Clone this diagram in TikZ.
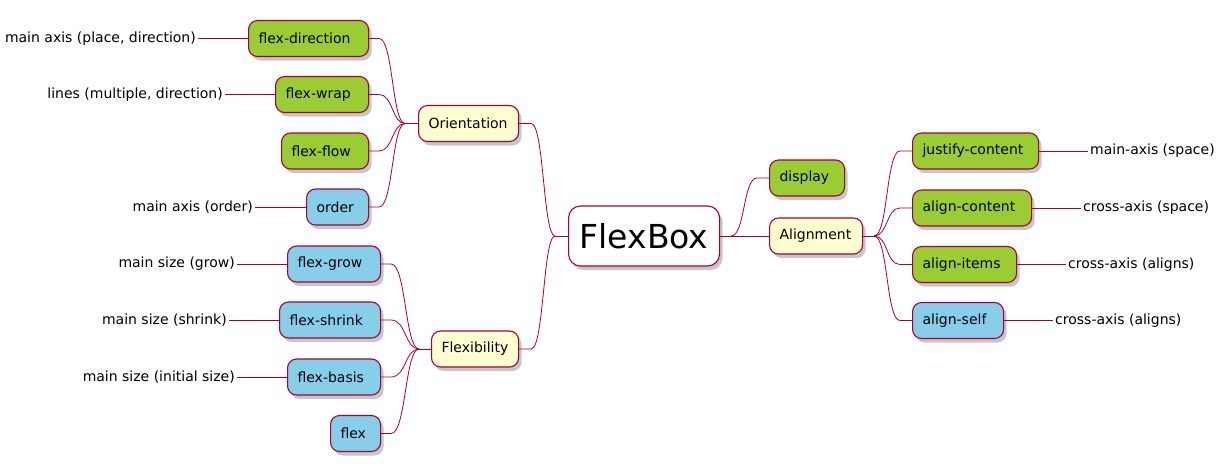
\documentclass[tikz,border=0pt]{standalone}
\usepackage{fontspec}
\setmainfont{DejaVu Sans}
\usetikzlibrary{shadows,calc}
\definecolor{bord}{HTML}{A80036}
\definecolor{grn}{HTML}{9ACD32}
\definecolor{blu}{HTML}{87CEEB}
\definecolor{ylw}{HTML}{FEFECE}
\tikzset{
  bx/.style={draw=bord, line width=1.1pt, rounded corners=9pt, minimum height=36pt,
    inner xsep=10pt, inner ysep=0pt, align=left, anchor=west, font=\fontsize{14}{16}\selectfont,
    drop shadow={shadow xshift=3pt, shadow yshift=-4pt, fill=black, opacity=0.22}},
  gbox/.style={bx, fill=grn},
  bbox/.style={bx, fill=blu},
  ybox/.style={bx, fill=ylw},
  lbl/.style={font=\fontsize{14}{16}\selectfont, inner xsep=2pt, inner ysep=0pt},
  con/.style={draw=bord, line width=0.8pt},
}
\begin{document}
\begin{tikzpicture}[x=1pt,y=-1pt]
\useasboundingbox (0,0) rectangle (1224,469);
% root
\node[bx, fill=white, minimum height=60pt, inner xsep=0pt, text width=151pt, align=center,
  rounded corners=12pt, font=\fontsize{33}{36}\selectfont] (root) at (568,236) {FlexBox};
% Orientation branch
\node[ybox, text width=80pt] (ori) at (418,123.5) {Orientation};
\node[gbox, text width=100pt] (fd) at (248,38.5) {flex-direction};
\node[gbox, text width=73pt] (fw) at (275,94.5) {flex-wrap};
\node[gbox, text width=67pt] (ff) at (281,151) {flex-flow};
\node[bbox, text width=42pt] (ord) at (306,207) {order};
% Flexibility branch
\node[ybox, text width=67pt] (fle) at (431,349) {Flexibility};
\node[bbox, text width=73pt] (fg) at (287,264) {flex-grow};
\node[bbox, text width=81pt] (fs) at (279,320) {flex-shrink};
\node[bbox, text width=73pt] (fb) at (287,377) {flex-basis};
\node[bbox, text width=30pt] (fl) at (330,433.5) {flex};
% right side
\node[gbox, text width=55pt] (disp) at (769,178) {display};
\node[ybox, text width=73pt] (ali) at (769,236) {Alignment};
\node[gbox, text width=106pt] (jc) at (912,151) {justify-content};
\node[gbox, text width=99pt] (ac) at (912,208) {align-content};
\node[gbox, text width=84pt] (ai) at (912,264.5) {align-items};
\node[bbox, text width=71pt] (as) at (912,320.5) {align-self};
% labels
\node[lbl, anchor=east] (l1) at (198,38.5) {main axis (place, direction)};
\node[lbl, anchor=east] (l2) at (225,94.5) {lines (multiple, direction)};
\node[lbl, anchor=east] (l3) at (255,207) {main axis (order)};
\node[lbl, anchor=east] (l4) at (237,264) {main size (grow)};
\node[lbl, anchor=east] (l5) at (229,320) {main size (shrink)};
\node[lbl, anchor=east] (l6) at (237,377) {main size (initial size)};
\node[lbl, anchor=west] (r1) at (1088,151) {main-axis (space)};
\node[lbl, anchor=west] (r2) at (1081,208) {cross-axis (space)};
\node[lbl, anchor=west] (r3) at (1066,264.5) {cross-axis (aligns)};
\node[lbl, anchor=west] (r4) at (1053,320.5) {cross-axis (aligns)};
% label lines
\draw[con] (l1.east) -- (fd.west);
\draw[con] (l2.east) -- (fw.west);
\draw[con] (l3.east) -- (ord.west);
\draw[con] (l4.east) -- (fg.west);
\draw[con] (l5.east) -- (fs.west);
\draw[con] (l6.east) -- (fb.west);
\draw[con] (jc.east) -- (r1.west);
\draw[con] (ac.east) -- (r2.west);
\draw[con] (ai.east) -- (r3.west);
\draw[con] (as.east) -- (r4.west);
% junctions
\coordinate (jo) at ($(ori.west)+(-13,0)$);
\coordinate (jf) at ($(fle.west)+(-12,0)$);
\coordinate (jl) at ($(root.west)+(-13,0)$);
\coordinate (jr) at ($(root.east)+(11,0)$);
\coordinate (ja) at ($(ali.east)+(11,0)$);
\draw[con] (jo) -- (ori.west);
\draw[con] (jf) -- (fle.west);
\draw[con] (jl) -- (root.west);
\draw[con] (root.east) -- (jr);
\draw[con] (ali.east) -- (ja);
% left-side curves
\foreach \c in {fd,fw,ff,ord}{
  \draw[con] (\c.east) -- ($(\c.east)+(10,0)$) .. controls ($(\c.east)+(24,0)$) and ($(jo)+(-13,0)$) .. (jo);
}
\foreach \c in {fg,fs,fb,fl}{
  \draw[con] (\c.east) -- ($(\c.east)+(10,0)$) .. controls ($(\c.east)+(25,0)$) and ($(jf)+(-14,0)$) .. (jf);
}
\foreach \c in {ori,fle}{
  \draw[con] (\c.east) -- ($(\c.east)+(12,0)$) .. controls ($(\c.east)+(25,0)$) and ($(jl)+(-12,0)$) .. (jl);
}
% right-side curves
\draw[con] (jr) .. controls ($(jr)+(14,0)$) and ($(disp.west)+(-26,0)$) .. ($(disp.west)+(-12,0)$) -- (disp.west);
\draw[con] (jr) -- (ali.west);
\foreach \c in {jc,ac,ai,as}{
  \draw[con] (ja) .. controls ($(ja)+(14,0)$) and ($(\c.west)+(-26,0)$) .. ($(\c.west)+(-12,0)$) -- (\c.west);
}
\end{tikzpicture}
\end{document}
